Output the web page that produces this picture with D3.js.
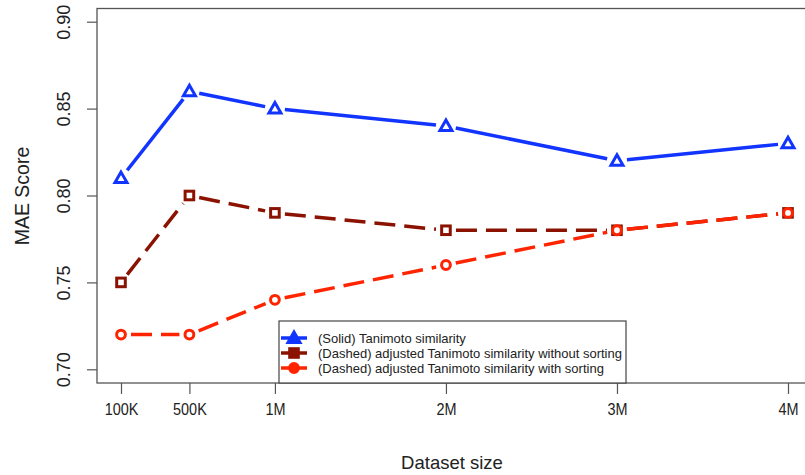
<!DOCTYPE html>
<html><head><meta charset="utf-8">
<script src="https://cdn.jsdelivr.net/npm/d3@7"></script>
<style>body{margin:0;background:#fff}svg{display:block}text{font-family:"Liberation Sans",Arial,sans-serif}</style>
</head><body><svg id="c" width="805" height="475"></svg>
<script>
const sizes = [100000, 500000, 1000000, 2000000, 3000000, 4000000];
const tickLabels = ["100K", "500K", "1M", "2M", "3M", "4M"];
const tanimoto = [0.81, 0.86, 0.85, 0.84, 0.82, 0.83];
const adjNoSort = [0.75, 0.80, 0.79, 0.78, 0.78, 0.79];
const adjSort = [0.72, 0.72, 0.74, 0.76, 0.78, 0.79];
const yTicks = [0.70, 0.75, 0.80, 0.85, 0.90];
const seriesNames = ["(Solid) Tanimoto similarity",
  "(Dashed) adjusted Tanimoto similarity without sorting",
  "(Dashed) adjusted Tanimoto similarity with sorting"];

const series = [
  {name: seriesNames[0], values: tanimoto, color: "#1234ff", dash: null, shape: "tri"},
  {name: seriesNames[1], values: adjNoSort, color: "#8b1200", dash: "21,9", shape: "sq"},
  {name: seriesNames[2], values: adjSort, color: "#ff2400", dash: "21,9", shape: "circ"}
];

const svg = d3.select("#c");
const x = d3.scaleLinear().domain([100000, 4000000]).range([121, 788]);
const y = d3.scaleLinear().domain([0.70, 0.90]).range([369.3, 21.7]);
const axisColor = "#555";

// box
svg.append("rect").attr("x", 97).attr("y", 8.5).attr("width", 720).attr("height", 374.5)
  .attr("fill", "none").attr("stroke", axisColor).attr("stroke-width", 1.3);

// y axis
const yAxis = svg.append("g").attr("transform", "translate(97,0)")
  .call(d3.axisLeft(y).tickValues(yTicks).tickSize(10).tickFormat(d3.format(".2f")));
yAxis.select(".domain").remove();
yAxis.selectAll(".tick line").attr("stroke", axisColor).attr("stroke-width", 1.2);
yAxis.selectAll(".tick text").attr("font-size", 18).attr("fill", "#222")
  .attr("x", 0).attr("dy", 0)
  .attr("transform", "translate(-33,0) rotate(-90)")
  .attr("text-anchor", "middle").attr("dominant-baseline", "central");

// x axis
const xAxis = svg.append("g").attr("transform", "translate(0,383)")
  .call(d3.axisBottom(x).tickValues(sizes).tickSize(11).tickFormat((d, i) => tickLabels[i]));
xAxis.select(".domain").remove();
xAxis.selectAll(".tick line").attr("stroke", axisColor).attr("stroke-width", 1.2);
xAxis.selectAll(".tick text").attr("font-size", 17).attr("fill", "#222")
  .attr("y", 20).attr("transform", "scale(0.85,1)");

// axis titles
svg.append("text").attr("x", 452).attr("y", 469).attr("text-anchor", "middle")
  .attr("font-size", 18.5).attr("fill", "#222").text("Dataset size");
svg.append("text").attr("transform", "translate(29,196) rotate(-90)").attr("text-anchor", "middle")
  .attr("font-size", 19.5).attr("fill", "#222").text("MAE Score");

function marker(g, shape, cx, cy, color, filled) {
  if (shape === "tri") {
    g.append("path").attr("d", `M${cx},${cy-6}L${cx+6},${cy+4.5}L${cx-6},${cy+4.5}Z`)
      .attr("fill", filled ? color : "#fff").attr("stroke", color).attr("stroke-width", 3).attr("stroke-linejoin", "miter");
  } else if (shape === "sq") {
    g.append("rect").attr("x", cx-4.3).attr("y", cy-4.3).attr("width", 8.6).attr("height", 8.6)
      .attr("fill", filled ? color : "#fff").attr("stroke", color).attr("stroke-width", 3);
  } else {
    g.append("circle").attr("cx", cx).attr("cy", cy).attr("r", 4.4)
      .attr("fill", filled ? color : "#fff").attr("stroke", color).attr("stroke-width", 3);
  }
}

const gap = 10;
series.forEach(s => {
  const g = svg.append("g");
  const pts = s.values.map((v, i) => [x(sizes[i]), y(v)]);
  for (let i = 0; i < pts.length - 1; i++) {
    const [x1, y1] = pts[i], [x2, y2] = pts[i+1];
    const len = Math.hypot(x2 - x1, y2 - y1);
    if (len < 2 * gap) continue;
    const ux = (x2 - x1) / len, uy = (y2 - y1) / len;
    const ln = g.append("line")
      .attr("x1", x1 + ux * gap).attr("y1", y1 + uy * gap)
      .attr("x2", x2 - ux * gap).attr("y2", y2 - uy * gap)
      .attr("stroke", s.color).attr("stroke-width", 3.5);
    if (s.dash) ln.attr("stroke-dasharray", s.dash);
  }
  pts.forEach(p => marker(g, s.shape, p[0], p[1], s.color, false));
});

// legend
const lg = svg.append("g");
lg.append("rect").attr("x", 279).attr("y", 321).attr("width", 347).attr("height", 62)
  .attr("fill", "#fff").attr("stroke", "#444").attr("stroke-width", 1.2);
series.forEach((s, i) => {
  const cy = 338 + i * 15;
  lg.append("line").attr("x1", 281).attr("x2", 307).attr("y1", cy).attr("y2", cy)
    .attr("stroke", s.color).attr("stroke-width", 3.5);
  marker(lg, s.shape, 294, cy, s.color, true);
  lg.append("text").attr("x", 318).attr("y", cy).attr("dominant-baseline", "central")
    .attr("font-size", 13).attr("fill", "#222").text(s.name);
});
</script></body></html>
